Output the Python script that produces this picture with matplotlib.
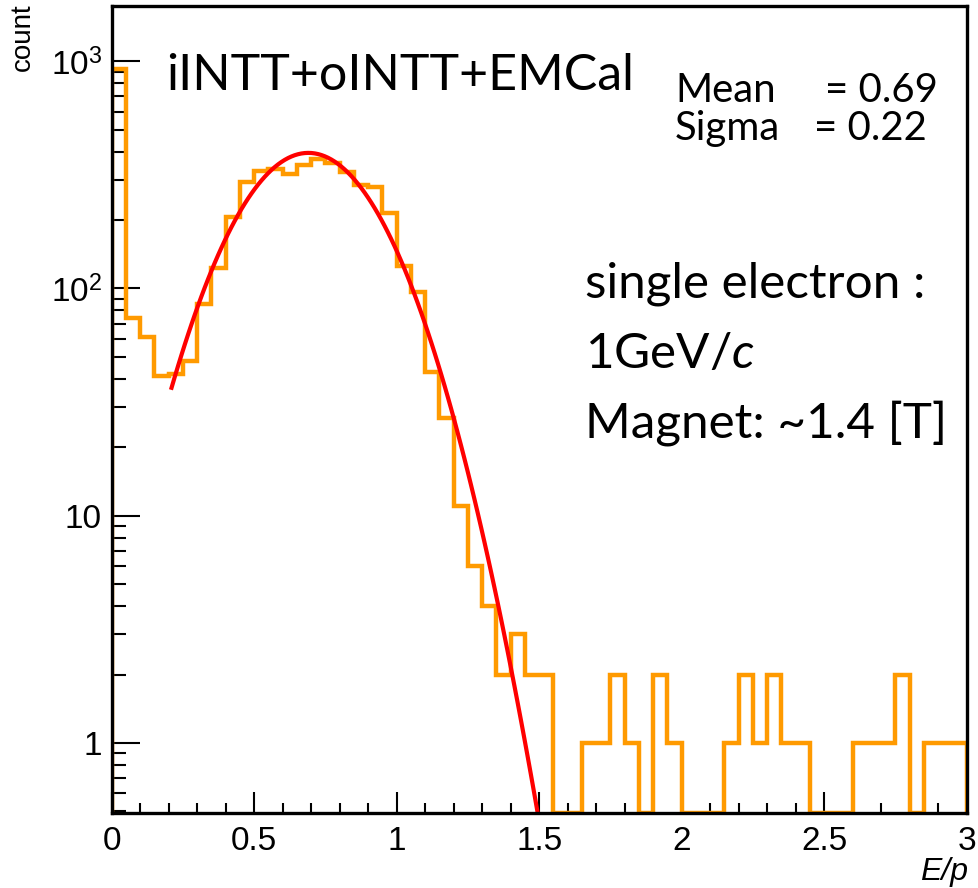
import numpy as np
import matplotlib
matplotlib.use("Agg")
import matplotlib.pyplot as plt
from matplotlib.ticker import FixedLocator, MultipleLocator, LogLocator, NullFormatter

# ---------------- data ----------------
x_range = (0.0, 3.0)
n_bins = 60
counts = [920, 74, 61, 41, 42, 48, 85, 123, 206, 294,
          330, 334, 319, 349, 370, 355, 326, 286, 280, 214,
          125, 96, 43, 27, 11, 6, 4, 2, 3, 2,
          2, 0, 0, 1, 1, 2, 1, 0, 2, 1,
          0, 0, 0, 1, 2, 1, 2, 1, 1, 0,
          0, 0, 1, 1, 1, 2, 0, 1, 1, 1]
fit_amp = 395.0
fit_mean = 0.69
fit_sigma = 0.22
fit_range = (0.21, 1.6)
x_major = [0, 0.5, 1, 1.5, 2, 2.5, 3]
x_major_labels = ["0", "0.5", "1", "1.5", "2", "2.5", "3"]
y_major = [1, 10, 100, 1000]
y_major_labels = ["1", "10", r"$10^{2}$", r"$10^{3}$"]
title_text = "iINTT+oINTT+EMCal"
stat_names = ["Mean", "Sigma"]
stat_values = ["= 0.69", "= 0.22"]
info_lines = ["single electron :", r"1GeV/$c$", "Magnet: ~1.4 [T]"]

# ---------------- style ----------------
plt.rcParams['mathtext.fontset'] = 'custom'
plt.rcParams['mathtext.rm'] = 'Liberation Sans'
plt.rcParams['mathtext.it'] = 'Lato:italic'
plt.rcParams['mathtext.bf'] = 'Liberation Sans:bold'
plt.rcParams['font.family'] = ['Liberation Sans', 'DejaVu Sans']

W, H = 979, 888
fig = plt.figure(figsize=(W / 100, H / 100), dpi=100)
fig.patch.set_facecolor('white')

L, R, T, B = 111.7, 966.7, 6.0, 813.3
ax = fig.add_axes([L / W, 1 - B / H, (R - L) / W, (B - T) / H])
ax.set_yscale('log')
ymin, ymax = 0.49, 1750
ax.set_xlim(*x_range)
ax.set_ylim(ymin, ymax)

edges = np.linspace(x_range[0], x_range[1], n_bins + 1)
vals = np.asarray(counts, dtype=float)
disp = np.where(vals > 0, vals, ymin)
ax.stairs(disp, edges, baseline=ymin, color='#FF9A00', lw=3.2, zorder=3)

xf = np.linspace(fit_range[0], fit_range[1], 120)
yf = fit_amp * np.exp(-0.5 * ((xf - fit_mean) / fit_sigma) ** 2)
ax.plot(xf, yf, color='#FF0000', lw=3.0, zorder=4)

for s in ax.spines.values():
    s.set_linewidth(2.4)
    s.set_zorder(5)

ax.xaxis.set_major_locator(FixedLocator(x_major))
ax.set_xticklabels(x_major_labels)
ax.xaxis.set_minor_locator(MultipleLocator(0.1))
ax.yaxis.set_major_locator(FixedLocator(y_major))
ax.set_yticklabels(y_major_labels)
ax.yaxis.set_minor_locator(LogLocator(base=10, subs=np.arange(2, 10), numticks=100))
ax.yaxis.set_minor_formatter(NullFormatter())

ax.tick_params(axis='both', which='both', direction='in', top=False, right=False)
ax.tick_params(axis='x', which='major', length=15, width=1.5, pad=9,
               labelsize=24)
ax.tick_params(axis='x', which='minor', length=7.5, width=1.5)
ax.tick_params(axis='y', which='major', length=20, width=1.5, pad=7,
               labelsize=24)
ax.tick_params(axis='y', which='minor', length=10, width=1.5)

# axis titles
fig.text(23 / W, 1 - 3 / H, "count", rotation=90, ha='center', va='top',
         fontsize=20, family=['Liberation Sans Narrow', 'Liberation Sans'])
fig.text(968 / W, 1 - 880 / H, "E/p", ha='right', va='baseline',
         fontsize=23, family='Liberation Sans', style='italic')

# annotation texts, sized to match target widths
renderer = fig.canvas.get_renderer()


def place(txt, x_px, y_px, size, width_px=None, scale=1.0, ha='left'):
    t = fig.text(x_px / W, 1 - y_px / H, txt, fontsize=size, ha=ha,
                 va='baseline', family='Lato')
    if width_px is not None:
        w = t.get_window_extent(renderer).width
        t.set_fontsize(size * width_px / w * scale)
    return t


place(title_text, 166, 90, 40, width_px=425, scale=1.1)
t_mean = place(stat_names[0], 675, 102, 28, width_px=(660 + 380 / 3) - 675,
               scale=0.9)
fs_stat = t_mean.get_fontsize()
place(stat_names[1], 675, 140, fs_stat)
place(stat_values[0], 938, 102, fs_stat, ha='right')
place(stat_values[1], 927, 140, fs_stat, ha='right')

t_info = place(info_lines[0], 585, 297, 30, width_px=340)
fs_info = t_info.get_fontsize()
place(info_lines[1], 585, 368, fs_info)
place(info_lines[2], 585, 437, fs_info)

fig.savefig("out.png", dpi=100, facecolor='white')
